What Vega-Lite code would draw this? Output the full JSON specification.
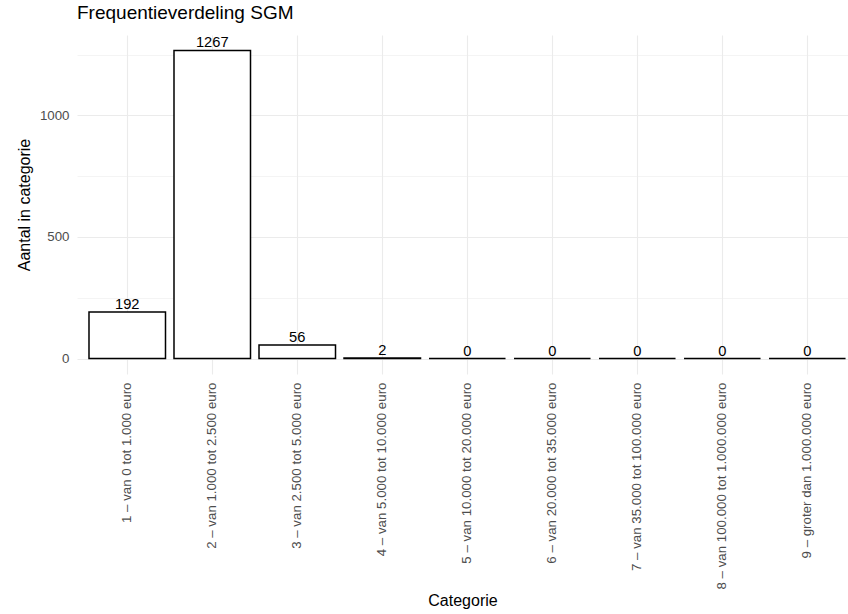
{
  "$schema": "https://vega.github.io/schema/vega-lite/v6.json",
  "autosize": "none",
  "width": 771,
  "height": 339,
  "padding": {"left": 77, "top": 35, "right": 0, "bottom": 240},
  "background": "white",
  "config": {
    "view": {"stroke": null},
    "font": "Liberation Sans",
    "axis": {"domain": false, "ticks": false, "gridColor": "#EBEBEB", "labelColor": "#4D4D4D", "labelFontSize": 13.3, "labelLimit": 0, "titleFontSize": 16, "titleFontWeight": "normal", "titleColor": "black"}
  },
  "title": {"text": "Frequentieverdeling SGM", "anchor": "start", "frame": "group", "fontSize": 19, "fontWeight": "normal", "color": "black", "offset": 12, "font": "Liberation Sans"},
  "data": {"values": [
    {"categorie": "1 – van 0 tot 1.000 euro", "aantal": 192},
    {"categorie": "2 – van 1.000 tot 2.500 euro", "aantal": 1267},
    {"categorie": "3 – van 2.500 tot 5.000 euro", "aantal": 56},
    {"categorie": "4 – van 5.000 tot 10.000 euro", "aantal": 2},
    {"categorie": "5 – van 10.000 tot 20.000 euro", "aantal": 0},
    {"categorie": "6 – van 20.000 tot 35.000 euro", "aantal": 0},
    {"categorie": "7 – van 35.000 tot 100.000 euro", "aantal": 0},
    {"categorie": "8 – van 100.000 tot 1.000.000 euro", "aantal": 0},
    {"categorie": "9 – groter dan 1.000.000 euro", "aantal": 0}
  ]},
  "encoding": {
    "x": {"field": "categorie", "type": "nominal", "sort": null,
      "scale": {"paddingInner": 0.1, "paddingOuter": 0.085, "align": 0.83},
      "axis": {"title": "Categorie", "labelAngle": 270, "labelPadding": 8, "grid": true, "bandPosition": 0.5, "gridWidth": 1.1, "titlePadding": 18}},
    "y": {"field": "aantal", "type": "quantitative",
      "scale": {"domain": [-63.35, 1330.35], "nice": false, "zero": false},
      "axis": {"title": "Aantal in categorie", "values": [0, 250, 500, 750, 1000, 1250], "format": "d",
        "labelExpr": "datum.value % 500 == 0 ? datum.label : ''", "labelPadding": 8, "titlePadding": 7,
        "gridWidth": {"condition": {"test": "datum.value % 500 == 0", "value": 1.1}, "value": 0.55}}}
  },
  "layer": [
    {"mark": {"type": "bar", "fill": "white", "stroke": "black", "strokeWidth": 1.5}, "encoding": {"y2": {"datum": 0}}},
    {"mark": {"type": "text", "baseline": "alphabetic", "dy": -3, "fontSize": 14.7, "color": "black"}, "encoding": {"text": {"field": "aantal", "type": "quantitative"}}}
  ]
}
